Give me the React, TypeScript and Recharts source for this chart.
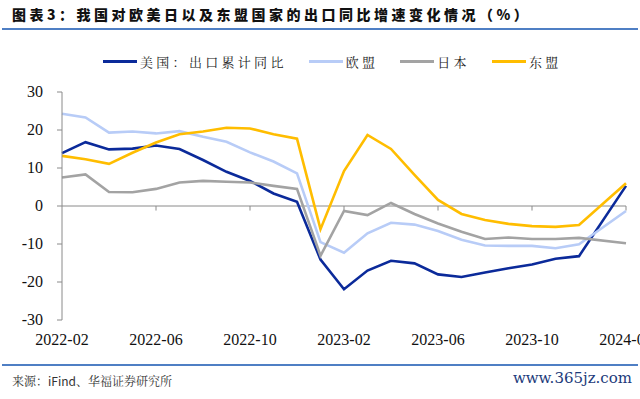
import React from 'react';
import { LineChart, Line, XAxis, YAxis, ReferenceLine } from 'recharts';

const months = [
  '2022-02', '2022-03', '2022-04', '2022-05', '2022-06', '2022-07', '2022-08', '2022-09', '2022-10',
  '2022-11', '2022-12', '2023-01', '2023-02', '2023-03', '2023-04', '2023-05', '2023-06', '2023-07',
  '2023-08', '2023-09', '2023-10', '2023-11', '2023-12', '2024-01', '2024-02',
];

// 2024-01 has no reading (Jan-Feb combined), line is bridged
const usa = [13.9, 16.8, 14.9, 15.1, 15.9, 15.0, 12.1, 9.0, 6.6, 3.3, 1.1, -14.1, -21.9, -17.0, -14.4, -15.1, -18.0, -18.7, -17.5, -16.4, -15.4, -13.9, -13.2, null, 5.3];
const eu = [24.3, 23.3, 19.3, 19.6, 19.1, 19.7, 18.2, 16.9, 14.1, 11.7, 8.6, -9.5, -12.3, -7.2, -4.4, -4.9, -6.6, -8.9, -10.4, -10.5, -10.5, -11.1, -10.1, null, -1.3];
const japan = [7.5, 8.3, 3.7, 3.6, 4.5, 6.2, 6.6, 6.4, 6.2, 5.3, 4.5, -13.1, -1.3, -2.4, 0.8, -2.1, -4.6, -6.8, -8.7, -8.3, -8.7, -8.7, -8.4, null, -9.8];
const asean = [13.2, 12.3, 11.1, 14.0, 16.7, 18.9, 19.6, 20.6, 20.4, 18.9, 17.7, -6.1, 9.2, 18.7, 15.0, 8.2, 1.6, -2.1, -3.7, -4.7, -5.3, -5.5, -5.0, null, 6.0];

const xTicks = ['2022-02', '2022-06', '2022-10', '2023-02', '2023-06', '2023-10', '2024-02'];
const yTicks = [-30, -20, -10, 0, 10, 20, 30];

const series = [
  { key: 'usa', name: '美国：出口累计同比', color: '#0b2a9a' },
  { key: 'eu', name: '欧盟', color: '#b8ccf7' },
  { key: 'japan', name: '日本', color: '#a3a3a3' },
  { key: 'asean', name: '东盟', color: '#ffbd00' },
];

const data = months.map((m, i) => ({
  month: m,
  usa: usa[i],
  eu: eu[i],
  japan: japan[i],
  asean: asean[i],
}));

const serif = '"Liberation Serif", "Times New Roman", serif';
const cjk = '"Noto Sans CJK SC", sans-serif';
const cjkSerif = '"Noto Serif CJK SC", "Noto Sans CJK SC", serif';

const XTick = ({ x, y, payload }: any) => (
  <text x={x} y={y} dy={17} textAnchor="middle" fontFamily={serif} fontSize={16} fill="#111">
    {payload.value}
  </text>
);

const YTick = ({ x, y, payload }: any) => (
  <text x={x} y={y} dy={5} textAnchor="end" fontFamily={serif} fontSize={16} fill="#111">
    {payload.value}
  </text>
);

export default function App() {
  return (
    <div style={{ position: 'absolute', left: 0, top: 0, width: 640, height: 399, background: '#fff', overflow: 'hidden' }}>
      <div style={{ position: 'absolute', left: 12, top: 4, fontFamily: cjk, fontWeight: 900, fontSize: 14, letterSpacing: 3.5, color: '#111', whiteSpace: 'nowrap' }}>
        图表3：我国对欧美日以及东盟国家的出口同比增速变化情况（%）
      </div>
      <div style={{ position: 'absolute', left: 2, top: 28, width: 636, height: 2, background: '#4f7fc4' }} />

      <div style={{ position: 'absolute', left: 103, top: 52, display: 'flex', alignItems: 'center' }}>
        {series.map((s) => (
          <div key={s.key} style={{ display: 'flex', alignItems: 'center', marginRight: 22 }}>
            <span style={{ width: 34, height: 3, background: s.color, display: 'inline-block', marginRight: 3 }} />
            <span style={{ fontFamily: cjkSerif, fontSize: 13, letterSpacing: 3.3, color: '#222' }}>{s.name}</span>
          </div>
        ))}
      </div>

      <LineChart width={640} height={360} data={data} margin={{ top: 92, right: 14, left: 0, bottom: 10 }}>
        <YAxis
          width={62}
          domain={[-30, 30]}
          ticks={yTicks}
          interval={0}
          axisLine={{ stroke: '#8a8a8a' }}
          tickLine={{ stroke: '#8a8a8a' }}
          tickSize={5}
          tickMargin={14}
          tick={<YTick />}
        />
        <XAxis
          dataKey="month"
          ticks={xTicks}
          interval={0}
          height={30}
          axisLine={false}
          tickLine={false}
          tickMargin={2}
          tick={<XTick />}
        />
        <ReferenceLine y={0} stroke="#8a8a8a" strokeWidth={1} />
        {xTicks.slice(1).map((t) => (
          <ReferenceLine key={t} segment={[{ x: t, y: 0 }, { x: t, y: -1.2 }]} stroke="#8a8a8a" strokeWidth={1} />
        ))}
        {series.map((s) => (
          <Line
            key={s.key}
            type="linear"
            dataKey={s.key}
            name={s.name}
            stroke={s.color}
            strokeWidth={2.6}
            dot={false}
            connectNulls
            isAnimationActive={false}
          />
        ))}
      </LineChart>

      <div style={{ position: 'absolute', left: 2, top: 364, width: 636, height: 2, background: '#4f7fc4' }} />
      <div style={{ position: 'absolute', left: 12, top: 372, fontFamily: cjkSerif, fontSize: 12, color: '#333' }}>
        来源：<span style={{ fontFamily: cjk }}>iFind</span>、华福证券研究所
      </div>
      <div style={{ position: 'absolute', right: 8, top: 369, fontFamily: '"DejaVu Serif", serif', fontSize: 15, color: '#1c3a7a' }}>
        www.365jz.com
      </div>
    </div>
  );
}
